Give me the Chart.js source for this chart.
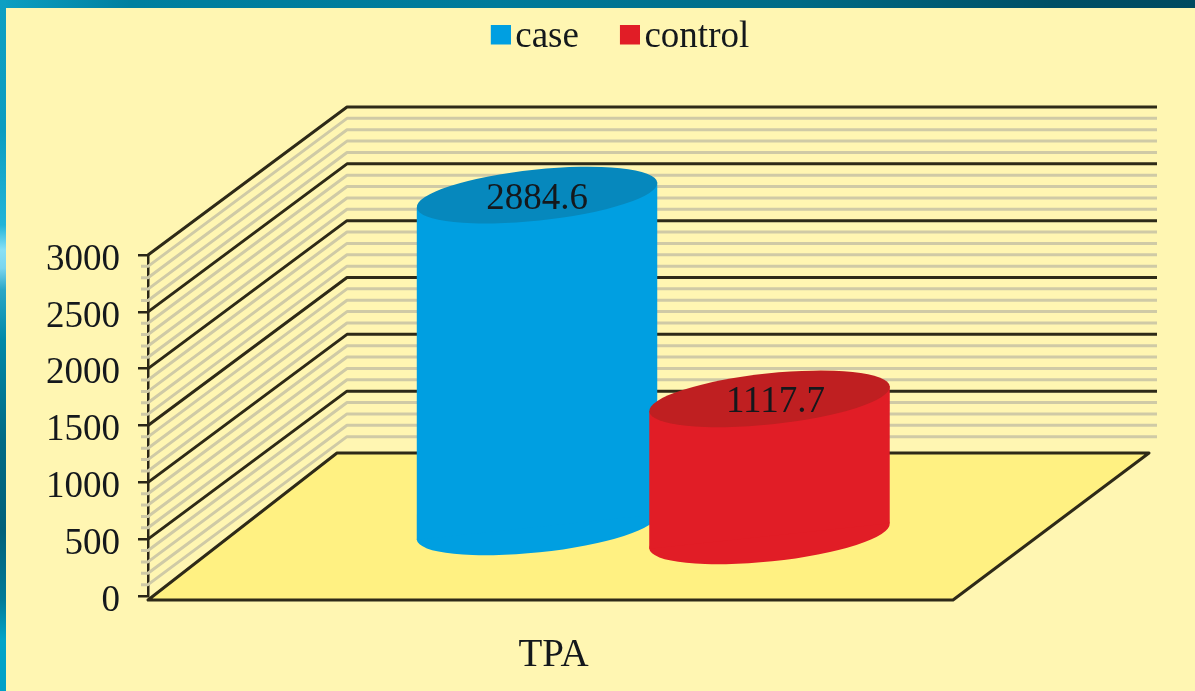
<!DOCTYPE html>
<html>
<head>
<meta charset="utf-8">
<script src="https://cdn.jsdelivr.net/npm/chart.js@4"></script>
<style>
html,body{margin:0;padding:0;width:1195px;height:691px;overflow:hidden;background:#fff6b2}
#top{position:absolute;left:0;top:0;width:1195px;height:8px;background:linear-gradient(90deg,#0d9fc3 0,#007f9f 130px,#007a9a 500px,#006a85 800px,#004f66 1050px,#004a60 1195px)}
#left{position:absolute;left:0;top:0;width:6px;height:691px;background:linear-gradient(180deg,#0d9fc3 0,#0c9cc0 130px,#22b4d8 225px,#88e0f6 250px,#7bd5ee 268px,#2aa6c6 290px,#0088a8 340px,#006a85 440px,#00607a 530px,#007a98 600px,#00a4c8 640px,#00a0c8 691px)}
canvas{position:absolute;left:0;top:0}
</style>
</head>
<body>
<div id="top"></div>
<div id="left"></div>
<canvas id="c" width="1195" height="691"></canvas>
<script>
const categories = ['TPA'];
const caseValues = [2884.6];
const controlValues = [1117.7];
const seriesNames = ['case', 'control'];
const wallStep = 100;
const majorStep = 500;

const FONT = '"Liberation Serif","Times New Roman",serif';
const SERIES = [
  {side:'#009fe1', top:'#0688bd', topShift:-1, baseShift:3, labelShift:0, labelRise:4},
  {side:'#e11d26', top:'#bf1f21', topShift:2, baseShift:12, labelShift:6, labelRise:3}
];
function swatch(color){
  const c = document.createElement('canvas');
  c.width = 28; c.height = 26;
  const g = c.getContext('2d');
  g.fillStyle = color;
  g.fillRect(8,0,20,20);
  return c;
}
const frame3d = {
  id:'frame3d',
  beforeDatasetsDraw(chart){
    const {ctx, chartArea:a, scales:{y}} = chart;
    const DX = 199, DY = 148, wallRight = 1157;
    ctx.save();
    ctx.lineJoin = 'round';
    const values = [];
    for (let v = y.max; v > y.min; v -= wallStep) values.push(v);
    values.sort((p,q)=> (p % majorStep === 0) - (q % majorStep === 0));
    for (const v of values) {
      const py = y.getPixelForValue(v);
      const major = v % majorStep === 0;
      ctx.beginPath();
      if (!major) { ctx.moveTo(a.left-7, py); ctx.lineTo(a.left, py); }
      else ctx.moveTo(a.left, py);
      ctx.lineTo(a.left+DX, py-DY);
      ctx.lineTo(wallRight, py-DY);
      ctx.lineWidth = major ? 3 : 3;
      ctx.strokeStyle = major ? '#2e2a18' : '#cfcaa6';
      ctx.stroke();
    }
    const fy = y.getPixelForValue(0) + 4;
    ctx.beginPath();
    ctx.moveTo(a.left, fy);
    ctx.lineTo(a.right, fy);
    ctx.lineTo(a.right+196, fy-147);
    ctx.lineTo(a.left+189, fy-147);
    ctx.closePath();
    ctx.fillStyle = '#fff182';
    ctx.fill();
    ctx.lineWidth = 3;
    ctx.strokeStyle = '#2e2a18';
    ctx.stroke();
    const CX = 102.75, CY = -72, tilt = -6*Math.PI/180, ry = 25.5;
    chart.data.datasets.forEach((d,i)=>{
      const bar = chart.getDatasetMeta(i).data[0];
      const s = SERIES[i];
      const cx = bar.x + CX, rx = bar.width/2*1.04;
      const ty = bar.y + CY + s.topShift, by = bar.base + CY + s.baseShift;
      const ex = rx*Math.cos(tilt), ey = rx*Math.sin(tilt);
      ctx.fillStyle = s.side;
      ctx.beginPath(); ctx.ellipse(cx,by,rx,ry,tilt,0,Math.PI*2); ctx.fill();
      ctx.beginPath();
      ctx.moveTo(cx-ex,ty-ey); ctx.lineTo(cx+ex,ty+ey);
      ctx.lineTo(cx+ex,by+ey); ctx.lineTo(cx-ex,by-ey);
      ctx.closePath(); ctx.fill();
      ctx.fillStyle = s.top;
      ctx.beginPath(); ctx.ellipse(cx,ty,rx,ry,tilt,0,Math.PI*2); ctx.fill();
    });
    ctx.restore();
    return false;
  },
  afterDraw(chart){
    const ctx = chart.ctx;
    ctx.save();
    ctx.font = '37px '+FONT;
    ctx.textAlign = 'center';
    ctx.textBaseline = 'middle';
    ctx.fillStyle = '#14181c';
    chart.data.datasets.forEach((d,i)=>{
      const bar = chart.getDatasetMeta(i).data[0];
      const s = SERIES[i];
      ctx.fillText(String(d.data[0]), bar.x+102.75+s.labelShift, bar.y-72+s.topShift+s.labelRise);
    });
    ctx.restore();
  }
};

new Chart(document.getElementById('c'),{
  type:'bar',
  data:{
    labels:categories,
    datasets:[
      {label:seriesNames[0],data:caseValues,backgroundColor:SERIES[0].side},
      {label:seriesNames[1],data:controlValues,backgroundColor:SERIES[1].side}
    ]
  },
  plugins:[frame3d],
  options:{
    responsive:false,
    animation:false,
    layout:{padding:{left:40,top:-28,right:-11,bottom:0}},
    datasets:{bar:{categoryPercentage:0.5776,barPercentage:1}},
    plugins:{
      tooltip:{enabled:false},
      legend:{
        position:'top',
        labels:{
          usePointStyle:true,
          pointStyleWidth:0.01,
          padding:47,
          color:'#14181c',
          font:{family:FONT,size:37},
          generateLabels(chart){
            return Chart.defaults.plugins.legend.labels.generateLabels(chart).map((it,i)=>{
              it.pointStyle = swatch(SERIES[i].side);
              return it;
            });
          }
        }
      }
    },
    scales:{
      x:{
        grid:{display:false},
        border:{display:false},
        ticks:{color:'#14181c',font:{family:FONT,size:39},padding:28,labelOffset:3},
        afterFit(s){s.height=95;}
      },
      spacer:{
        type:'category',axis:'x',position:'top',labels:categories,
        grid:{display:false},border:{display:false},
        ticks:{display:false},
        afterFit(s){s.height=189;}
      },
      spacerRight:{
        type:'linear',axis:'y',position:'right',
        grid:{display:false},border:{display:false},
        ticks:{display:false},
        afterFit(s){s.width=253;}
      },
      y:{
        min:0,max:3000,
        ticks:{stepSize:majorStep,color:'#14181c',font:{family:FONT,size:37},padding:18,labelOffset:5,
          callback(v){return String(v);}},
        grid:{drawOnChartArea:false,tickLength:10,color:'#2a2618',lineWidth:2.5},
        border:{display:true,color:'#2a2618',width:2.5,dash:[5,4]},
        afterFit(s){s.width=108;}
      }
    }
  }
});
</script>
</body>
</html>
